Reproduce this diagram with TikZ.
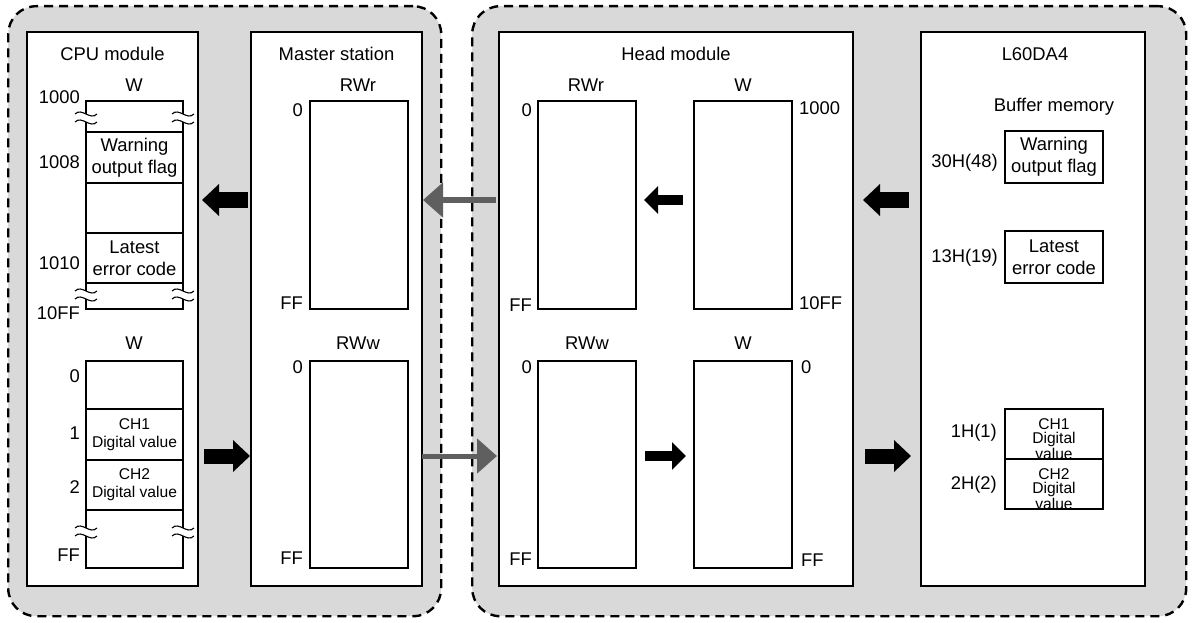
\documentclass[tikz,border=0pt]{standalone}
\usepackage{fontspec}
\setmainfont{Liberation Sans}
\usepackage{tikz}
\usetikzlibrary{positioning,arrows.meta}
\definecolor{PanelGrey}{HTML}{D9D9D9}
\definecolor{LinkGrey}{HTML}{5F5F5F}

\tikzset{
  brk/.pic={
    \fill[white] (-11,-4) .. controls (-4,-11) and (4,3) .. (11,-4) -- (11,4) .. controls (4,11) and (-4,-3) .. (-11,4) -- cycle;
    \draw[line width=1.1pt] (-11,-4) .. controls (-4,-11) and (4,3) .. (11,-4)
                            (-11,4) .. controls (-4,-3) and (4,11) .. (11,4);
  }
}

\begin{document}
\begin{tikzpicture}[x=1pt, y=-1pt,
    panel/.style={draw, fill=PanelGrey, line width=2.4pt, dash pattern=on 9pt off 6pt, rounded corners=28pt, anchor=north west, minimum height=610pt, inner sep=0pt},
    modbox/.style={draw, fill=white, line width=1.8pt, anchor=north west, minimum height=554pt, inner sep=0pt, outer sep=0pt},
    lbl/.style={font=\fontsize{18.4pt}{22pt}\selectfont, inner sep=0pt, align=center},
    addrL/.style={lbl, anchor=east},
    addrR/.style={lbl, anchor=west},
    tbl/.style={draw, fill=white, line width=1.2pt, minimum width=98pt, anchor=north west, inner sep=0pt, outer sep=0pt},
    cell/.style={draw, fill=white, line width=1.2pt, minimum width=97pt, inner sep=0pt, outer sep=0pt, align=center, font=\fontsize{18.4pt}{22pt}\selectfont},
    smallcell/.style={cell, font=\fontsize{15.6pt}{18pt}\selectfont},
    tightcell/.style={cell, minimum width=98pt, minimum height=50pt, font=\fontsize{15.6pt}{14pt}\selectfont},
    fatarr/.style={line width=15pt, -{Triangle[length=17pt, width=31pt]}},
    smallarr/.style={line width=10pt, -{Triangle[length=14pt, width=27pt]}},
    grayarr/.style={LinkGrey, line width=5pt, -{Triangle[length=20pt, width=34pt]}}
  ]
  \useasboundingbox (0,0) rectangle (1192,623);

  % dashed stations
  \node[panel, minimum width=433pt] (lpanel) at (7,5) {};
  \node[panel, minimum width=714pt] (rpanel) at (471,5) {};

  % modules
  \node[modbox, minimum width=171pt] (cpu) at (27,32) {};
  \node[modbox, minimum width=171pt] (master) at (251,32) {};
  \node[modbox, minimum width=354pt] (head) at (499,32) {};
  \node[modbox, minimum width=224pt] (l60) at (921,32) {};

  \node[lbl] (cputitle) at (cpu.north |- 0,54) {CPU module};
  \node[lbl] (mtitle) at (master.north |- 0,54) {Master station};
  \node[lbl] (htitle) at (head.north |- 0,54) {Head module};
  \node[lbl] (ltitle) at (1035,54) {L60DA4};

  % CPU module, W 1000-10FF
  \node[lbl] (cpuw1) at (134,85) {W};
  \node[cell, minimum height=31pt, anchor=north west] (wh0) at (86,101) {};
  \node[cell, minimum height=51pt, below=0pt of wh0] (wh1) {Warning\\output flag};
  \node[cell, minimum height=50pt, below=0pt of wh1] (wh2) {};
  \node[cell, minimum height=50pt, below=0pt of wh2] (wh3) {Latest\\error code};
  \node[cell, minimum height=26pt, below=0pt of wh3] (wh4) {};
  \node[addrL] (a1000) at (80,97) {1000};
  \node[addrL] (a1008) at (80,162) {1008};
  \node[addrL] (a1010) at (80,263) {1010};
  \node[addrL] (a10ff) at (80,313) {10FF};
  \pic at (86,118) {brk};
  \pic at (183,118) {brk};
  \pic at (86,295) {brk};
  \pic at (183,295) {brk};

  % CPU module, W 0-FF
  \node[lbl] (cpuw2) at (134,343) {W};
  \node[cell, minimum height=48pt, anchor=north west] (wl0) at (86,361) {};
  \node[smallcell, minimum height=51pt, below=0pt of wl0] (wl1) {CH1\\Digital value};
  \node[smallcell, minimum height=50pt, below=0pt of wl1] (wl2) {CH2\\Digital value};
  \node[cell, minimum height=58pt, below=0pt of wl2] (wl3) {};
  \node[addrL] (b0) at (80,376) {0};
  \node[addrL] (b1) at (80,433) {1};
  \node[addrL] (b2) at (80,487) {2};
  \node[addrL] (bff) at (80,555) {FF};
  \pic at (86,532) {brk};
  \pic at (183,532) {brk};

  % master station
  \node[lbl] (mrwrl) at (358,85) {RWr};
  \node[tbl, minimum height=208pt] (mrwr) at (310,101) {};
  \node[addrL] at (303,110) {0};
  \node[addrL] at (303,303) {FF};
  \node[lbl] (mrwwl) at (358,343) {RWw};
  \node[tbl, minimum height=207pt] (mrww) at (310,361) {};
  \node[addrL] at (303,367) {0};
  \node[addrL] at (303,558) {FF};

  % head module
  \node[lbl] (hrwrl) at (586,85) {RWr};
  \node[tbl, minimum height=208pt] (hrwr) at (538,101) {};
  \node[addrL] at (532,110) {0};
  \node[addrL] at (532,305) {FF};
  \node[lbl] (hwl) at (743,85) {W};
  \node[tbl, minimum height=208pt] (hw) at (694,101) {};
  \node[addrR] at (799,108) {1000};
  \node[addrR] at (799,303) {10FF};
  \node[lbl] (hrwwl) at (587,343) {RWw};
  \node[tbl, minimum height=207pt] (hrww) at (538,361) {};
  \node[addrL] at (532,367) {0};
  \node[addrL] at (532,559) {FF};
  \node[lbl] (hw2l) at (743,343) {W};
  \node[tbl, minimum height=207pt] (hw2) at (694,361) {};
  \node[addrR] at (801,367) {0};
  \node[addrR] at (801,560) {FF};

  % L60DA4 buffer memory
  \node[lbl] (bufl) at (1054,107) {Buffer memory};
  \node[cell, minimum width=98pt, minimum height=52pt, anchor=north west] (bwarn) at (1005,131) {Warning\\output flag};
  \node[cell, minimum width=98pt, minimum height=52pt, anchor=north west] (berr) at (1005,231) {Latest\\error code};
  \node[tightcell, anchor=north west] (bch1) at (1005,409) {};
  \node[tightcell, below=0pt of bch1] (bch2) {};
  \node[tightcell, draw=none, fill=none] at ([yshift=-5pt]bch1.center) {CH1\\Digital\\value};
  \node[tightcell, draw=none, fill=none] at ([yshift=-5pt]bch2.center) {CH2\\Digital\\value};
  \node[addrL] at (998,163) {30H(48)};
  \node[addrL] at (998,258) {13H(19)};
  \node[addrL] at (997,433) {1H(1)};
  \node[addrL] at (997,485) {2H(2)};

  % transfer arrows
  \coordinate (up) at (0,200);
  \coordinate (dn) at (0,456);
  \draw[fatarr, shorten <=3pt, shorten >=4pt] (master.west |- up) -- (cpu.east |- up);
  \draw[fatarr, shorten <=6pt, shorten >=1pt] (cpu.east |- dn) -- (master.west |- dn);
  \draw[grayarr, shorten <=3pt, shorten >=1pt] (head.west |- up) -- (master.east |- up);
  \draw[grayarr, shorten >=2pt] (master.east |- dn) -- (head.west |- dn);
  \draw[smallarr, shorten <=11pt, shorten >=8pt] (hw.west |- up) -- (hrwr.east |- up);
  \draw[smallarr, shorten <=9pt, shorten >=8pt] (hrww.east |- dn) -- (hw2.west |- dn);
  \draw[fatarr, shorten <=12pt, shorten >=10pt] (l60.west |- up) -- (head.east |- up);
  \draw[fatarr, shorten <=12pt, shorten >=10pt] (head.east |- dn) -- (l60.west |- dn);
\end{tikzpicture}
\end{document}
